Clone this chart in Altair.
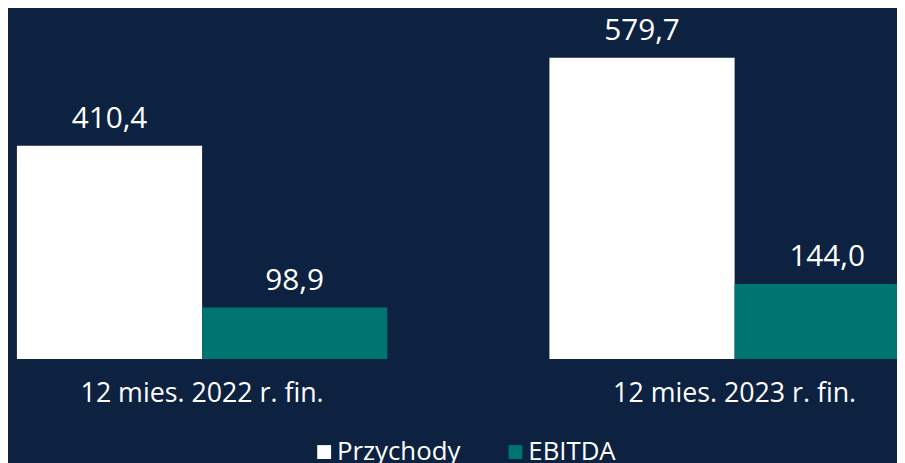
import altair as alt
import pandas as pd

categories = ["12 mies. 2022 r. fin.", "12 mies. 2023 r. fin."]
series = ["Przychody", "EBITDA"]
przychody = [410.4, 579.7]
ebitda = [98.9, 144.0]

rows = []
for i, c in enumerate(categories):
    for s, vals in zip(series, [przychody, ebitda]):
        v = vals[i]
        rows.append({"cat": c, "series": s, "value": v,
                     "label": f"{v:.1f}".replace(".", ",")})
df = pd.DataFrame(rows)
cat_df = pd.DataFrame({"cat": categories})

BG = "#0d2240"
TEAL = "#007470"
FONT = "Open Sans"

xenc = alt.X("cat:N", sort=categories, axis=None,
             scale=alt.Scale(range=[9, 920], paddingInner=0.3045, paddingOuter=0))
yscale = alt.Scale(domain=[-196.6, 671.8], nice=False, zero=False)
xoff = alt.XOffset("series:N", sort=series, scale=alt.Scale(paddingInner=0, paddingOuter=0))

bars = alt.Chart(df).mark_bar(clip=False).encode(
    x=xenc,
    xOffset=xoff,
    y=alt.Y("value:Q", scale=yscale, axis=None),
    y2=alt.datum(0),
    color=alt.Color("series:N", sort=series,
                    scale=alt.Scale(domain=series, range=["#ffffff", TEAL]),
                    legend=alt.Legend(title=None, orient="none", legendX=306, legendY=433,
                                      direction="horizontal", symbolType="square",
                                      symbolSize=196, symbolStrokeWidth=0,
                                      labelFontSize=26, labelColor="white", labelFont=FONT,
                                      labelOffset=0, columnPadding=42)),
)

values = alt.Chart(df).mark_text(baseline="alphabetic", dy=-18, fontSize=30,
                                 color="white", font=FONT).encode(
    x=xenc,
    xOffset=xoff,
    y=alt.Y("value:Q", scale=yscale),
    text="label:N",
)

catlabels = alt.Chart(cat_df).mark_text(baseline="alphabetic", fontSize=27,
                                        color="white", font=FONT).encode(
    x=xenc,
    y=alt.value(395),
    text="cat:N",
)

chart = alt.layer(bars, values, catlabels).properties(
    width=897, height=455,
    autosize=alt.AutoSizeParams(type="none"),
    padding=0,
    background=BG,
).configure_view(stroke=None)

chart.save("out.html", embed_options={"renderer": "svg", "actions": False})
